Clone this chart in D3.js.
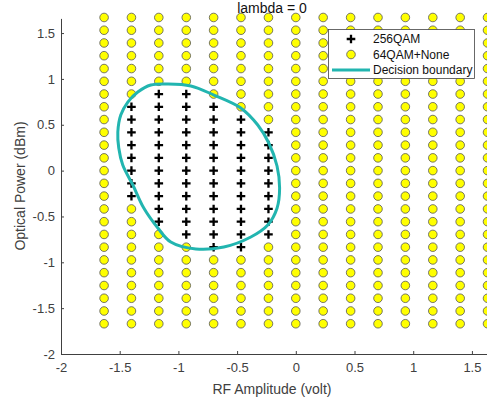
<!DOCTYPE html>
<html>
<head>
<meta charset="utf-8">
<script src="https://cdn.jsdelivr.net/npm/d3@7.9.0/dist/d3.min.js"></script>
<style>
  body { margin: 0; background: #fff; }
  svg { display: block; font-family: "Liberation Sans", Arial, sans-serif; }
</style>
</head>
<body>
<svg id="chart" width="487" height="403"></svg>
<script>
// measurement grid (RF amplitude columns x optical power rows)
const rfAmplitude = [-1.633, -1.4, -1.167, -0.933, -0.7, -0.467, -0.233, 0,
  0.233, 0.467, 0.7, 0.933, 1.167, 1.4, 1.633];
const opticalPower = [-1.67, -1.531, -1.392, -1.253, -1.113, -0.974, -0.835,
  -0.696, -0.557, -0.418, -0.278, -0.139, 0, 0.139, 0.278, 0.418, 0.557,
  0.696, 0.835, 0.974, 1.113, 1.253, 1.392, 1.531, 1.67];

// per column: optical power range classified as 256QAM (null = none)
const qam256Min = [null, -0.278, -0.557, -0.696, -0.835, -0.835, -0.696, null,
  null, null, null, null, null, null, null];
const qam256Max = [null, 0.696, 0.835, 0.835, 0.696, 0.557, 0.418, null,
  null, null, null, null, null, null, null];

// decision boundary
const boundaryX = [-1.09, -0.894, -0.698, -0.469, -0.324, -0.23, -0.16, -0.138,
  -0.16, -0.239, -0.383, -0.613, -0.852, -1.065, -1.175, -1.295, -1.388,
  -1.474, -1.508, -1.516, -1.491, -1.431, -1.346, -1.235];
const boundaryY = [0.944, 0.923, 0.824, 0.683, 0.497, 0.301, 0.05, -0.19,
  -0.41, -0.593, -0.724, -0.833, -0.855, -0.779, -0.626, -0.408, -0.157,
  0.061, 0.247, 0.421, 0.606, 0.748, 0.857, 0.933];

const xTicks = [-2, -1.5, -1, -0.5, 0, 0.5, 1, 1.5];
const yTicks = [-2, -1.5, -1, -0.5, 0, 0.5, 1, 1.5];

const axisColor = "#404040";
const boundaryColor = "#22b5b0";

const svg = d3.select("#chart");

const x = d3.scaleLinear().domain([-2, 1.66]).range([61, 490.7]);
const y = d3.scaleLinear().domain([-2, 1.66]).range([354, 18.4]);

// split grid into the two classes
const qam256 = [];
const others = [];
rfAmplitude.forEach((a, i) => {
  opticalPower.forEach((p) => {
    const inside = qam256Min[i] !== null && p >= qam256Min[i] - 1e-6 && p <= qam256Max[i] + 1e-6;
    (inside ? qam256 : others).push({ a, p });
  });
});

const plusPath = "M-4.3,0H4.3M0,-4.3V4.3";

svg.append("g")
  .selectAll("circle")
  .data(others)
  .join("circle")
  .attr("cx", (d) => x(d.a))
  .attr("cy", (d) => y(d.p))
  .attr("r", 4.3)
  .attr("fill", "#ffff00")
  .attr("stroke", "#555")
  .attr("stroke-width", 0.8);

svg.append("g")
  .selectAll("path")
  .data(qam256)
  .join("path")
  .attr("transform", (d) => `translate(${x(d.a)},${y(d.p)})`)
  .attr("d", plusPath)
  .attr("stroke", "#000")
  .attr("stroke-width", 2.3)
  .attr("fill", "none");

const boundary = boundaryX.map((bx, i) => [bx, boundaryY[i]]);
svg.append("path")
  .datum(boundary)
  .attr("d", d3.line().x((d) => x(d[0])).y((d) => y(d[1])).curve(d3.curveCatmullRomClosed.alpha(0.5)))
  .attr("fill", "none")
  .attr("stroke", boundaryColor)
  .attr("stroke-width", 3);

// axes
const fmt = (d) => String(d);
const xAxis = svg.append("g")
  .attr("transform", "translate(0,354)")
  .call(d3.axisBottom(x).tickValues(xTicks).tickFormat(fmt).tickSizeInner(-3).tickSizeOuter(0).tickPadding(9));
const yAxis = svg.append("g")
  .attr("transform", "translate(61,0)")
  .call(d3.axisLeft(y).tickValues(yTicks).tickFormat(fmt).tickSizeInner(-3).tickSizeOuter(0).tickPadding(6));

[xAxis, yAxis].forEach((g) => {
  g.attr("font-family", null).attr("font-size", 13);
  g.select(".domain").attr("stroke", axisColor);
  g.selectAll(".tick line").attr("stroke", axisColor);
  g.selectAll(".tick text").attr("fill", axisColor);
});

svg.append("text")
  .attr("x", 272).attr("y", 394)
  .attr("text-anchor", "middle")
  .attr("font-size", 14)
  .attr("fill", axisColor)
  .text("RF Amplitude (volt)");

svg.append("text")
  .attr("transform", "translate(25,186) rotate(-90)")
  .attr("text-anchor", "middle")
  .attr("font-size", 14)
  .attr("fill", axisColor)
  .text("Optical Power (dBm)");

svg.append("text")
  .attr("x", 272).attr("y", 13)
  .attr("text-anchor", "middle")
  .attr("font-size", 14)
  .attr("fill", "#111")
  .text("lambda = 0");

// legend
const legend = svg.append("g");
legend.append("rect")
  .attr("x", 328.5).attr("y", 29.5)
  .attr("width", 146).attr("height", 49)
  .attr("fill", "#fff")
  .attr("stroke", "#444")
  .attr("stroke-width", 0.8);

const legendRows = ["256QAM", "64QAM+None", "Decision boundary"];
legendRows.forEach((label, i) => {
  const ly = 39 + i * 15.5;
  if (i === 0) {
    legend.append("path")
      .attr("transform", `translate(351,${ly})`)
      .attr("d", plusPath)
      .attr("stroke", "#000").attr("stroke-width", 2.3);
  } else if (i === 1) {
    legend.append("circle")
      .attr("cx", 351).attr("cy", ly).attr("r", 4.3)
      .attr("fill", "#ffff00").attr("stroke", "#555").attr("stroke-width", 0.8);
  } else {
    legend.append("line")
      .attr("x1", 332).attr("x2", 370).attr("y1", ly).attr("y2", ly)
      .attr("stroke", boundaryColor).attr("stroke-width", 3);
  }
  legend.append("text")
    .attr("x", 373).attr("y", ly + 4.3)
    .attr("font-size", 12)
    .attr("fill", "#111")
    .text(label);
});
</script>
</body>
</html>
